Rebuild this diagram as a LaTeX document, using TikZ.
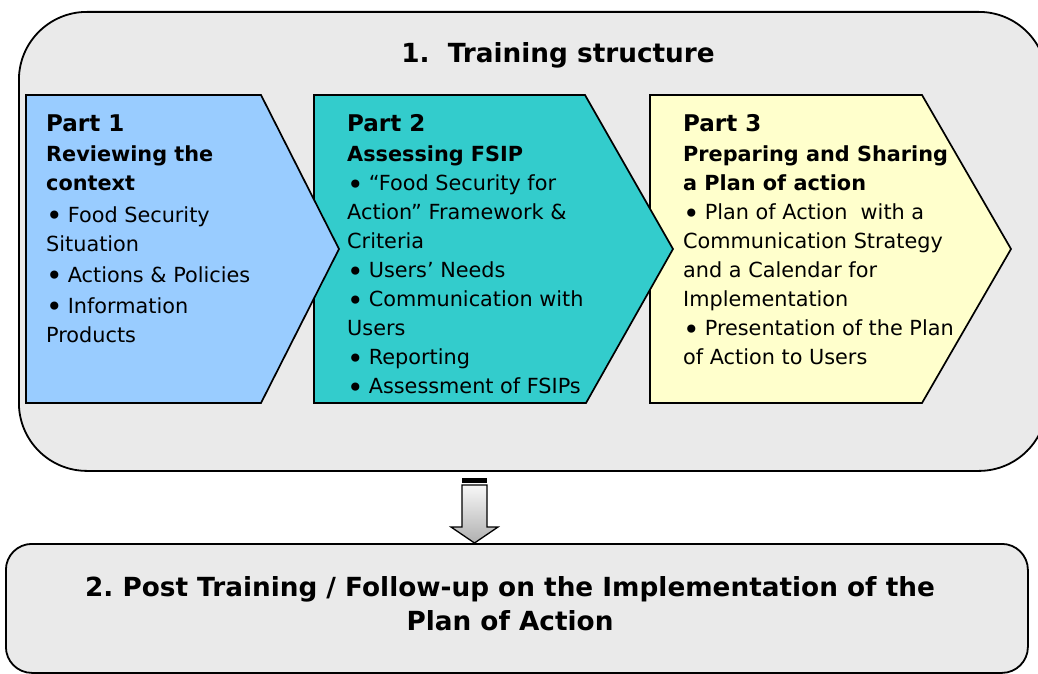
\documentclass[tikz,border=0pt]{standalone}
\usepackage{fontspec}
\setmainfont{DejaVu Sans}
\definecolor{boxgray}{HTML}{EAEAEA}
\definecolor{partone}{HTML}{99CCFF}
\definecolor{parttwo}{HTML}{33CCCC}
\definecolor{partthree}{HTML}{FFFFCC}
\tikzset{
  framebox/.style={draw=black, line width=1.8pt, fill=boxgray, rectangle, inner sep=0pt, anchor=north west},
  partshape/.style={draw=black, line width=1.7pt, line join=miter},
  parttext/.style={anchor=north west, inner sep=0pt, align=left, font=\fontsize{20.8}{29}\selectfont},
  bigtext/.style={font=\fontsize{26.3}{34}\selectfont\bfseries, inner sep=0pt}
}
\newcommand{\parthd}[1]{{\fontsize{23}{29}\selectfont\bfseries #1}}
\newcommand{\bul}{\raisebox{-3.6pt}{\fontsize{28}{29}\selectfont •}\hspace{-1.5pt}}
\begin{document}
\begin{tikzpicture}[x=1pt,y=-1pt]
\useasboundingbox (0,0) rectangle (1038,674);
\clip (0,0) rectangle (1038,674);
\fill[white] (0,0) rectangle (1038,674);
% outer frame
\node[framebox, rounded corners=68pt, minimum width=1028pt, minimum height=459pt] (outer) at (18,11) {};
\node[bigtext, anchor=base] (title) at (558,63) {1.\ \ Training structure};
% parts (drawn right to left so each tip lies on top)
\draw[partshape, fill=partthree] (650,95) -- (922,95) -- (1011,249) -- (922,403) -- (650,403) -- cycle;
\draw[partshape, fill=parttwo] (314,95) -- (585,95) -- (673,249) -- (586,403) -- (314,403) -- cycle;
\draw[partshape, fill=partone] (26,95) -- (261,95) -- (339,249) -- (261,403) -- (26,403) -- cycle;
\node[parttext] (p1) at (46,114.2) {\parthd{Part 1}\\[1pt]
\textbf{Reviewing the}\\
\textbf{context}\\[3pt]
\bul\ Food Security\\
Situation\\[2pt]
\bul\ Actions \& Policies\\[2pt]
\bul\ Information\\
Products};
\node[parttext] (p2) at (347,114.2) {\parthd{Part 2}\\[1pt]
\textbf{Assessing FSIP}\\
\bul\ “Food Security for\\
Action” Framework \&\\
Criteria\\
\bul\ Users’ Needs\\
\bul\ Communication with\\
Users\\
\bul\ Reporting\\
\bul\ Assessment of FSIPs};
\node[parttext] (p3) at (683,114.2) {\parthd{Part 3}\\[1pt]
\textbf{Preparing and Sharing}\\
\textbf{a Plan of action}\\
\bul\ Plan of Action\ \ with a\\
Communication Strategy\\
and a Calendar for\\
Implementation\\
\bul\ Presentation of the Plan\\
of Action to Users};
% bottom box
\node[framebox, rounded corners=26pt, minimum width=1022pt, minimum height=129pt] (post) at (5,543) {};
\node[bigtext, align=center, anchor=north] (posttext) at (510,576.5) {2.\ Post Training / Follow-up on the Implementation of the\\ Plan of Action};
% block arrow from the frame to the bottom box
\fill[black] (462,478) rectangle (487,482.5);
\shade[top color=gray!6, bottom color=gray!62, draw=black, line width=1.3pt, line join=miter]
  (462,485) -- (487,485) -- (487,527) -- (498,527) -- (474.5,543) -- (451,527) -- (462,527) -- cycle;
\end{tikzpicture}
\end{document}
